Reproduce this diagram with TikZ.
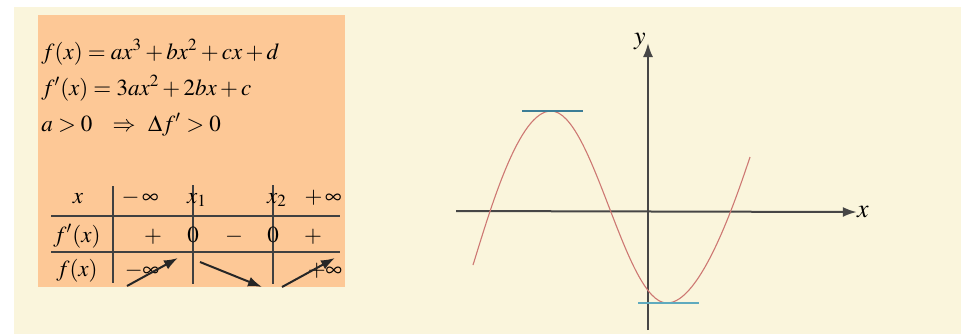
\documentclass[tikz,border=0pt]{standalone}
\usepackage{mathptmx}
\usetikzlibrary{arrows.meta}
\definecolor{creambg}{RGB}{250,245,220}
\definecolor{orangebox}{RGB}{253,200,150}
\definecolor{curvered}{RGB}{205,120,115}
\definecolor{tangblue}{RGB}{60,125,150}
\definecolor{tangcyan}{RGB}{95,170,190}
\definecolor{axisgray}{RGB}{70,70,70}

\begin{document}
\begin{tikzpicture}[
    x=0.5pt, y=0.5pt,
    formula/.style={anchor=base west, inner sep=0pt, font=\fontsize{11.5}{14}\selectfont},
    cell/.style={anchor=base, inner sep=0pt, font=\fontsize{11.5}{14}\selectfont},
    rule/.style={line width=0.8pt, color=black!75},
    varrow/.style={-{Latex[length=7pt, width=5pt]}, line width=1pt, color=black!85},
    axis/.style={-{Latex[length=7pt, width=5pt]}, line width=1pt, color=axisgray},
    axlabel/.style={inner sep=0pt, font=\fontsize{13}{15}\selectfont},
    curve/.style={line width=0.55pt, color=curvered},
    tangent/.style={line width=0.7pt}
]

% --- background ---
\fill[white] (0,0) rectangle (961,-334);
\fill[creambg] (14,-7) rectangle (961,-334);
\fill[orangebox] (38,-15) rectangle (345,-287);
\useasboundingbox (0,0) rectangle (961,-334);

% --- formulas ---
\node[formula] (fdef) at (41,-59) {$f(x)=ax^3+bx^2+cx+d$};
\node[formula] (fder) at (41,-95) {$f'(x)=3ax^2+2bx+c$};
\node[formula] (fdisc) at (41,-131) {$a>0\ \ \Rightarrow\ \Delta f'>0$};

% --- table rules ---
\draw[rule] (51,-216) -- (340,-216);
\draw[rule] (51,-252) -- (340,-252);
\draw[rule] (113,-186) -- (113,-283);
\draw[rule] (193,-185) -- (193,-284);
\draw[rule] (273,-185) -- (273,-284);

% --- table header ---
\node[cell] (hx) at (78,-203) {$x$};
\node[cell] (hminf) at (140,-203) {$-\,\infty$};
\node[cell] (hxone) at (197,-203) {$x_1$};
\node[cell] (hxtwo) at (277,-203) {$x_2$};
\node[cell] (hpinf) at (323,-203) {$+\,\infty$};

% --- derivative row ---
\node[cell] (dlab) at (77,-242) {$f'(x)$};
\node[cell] (dplus) at (153,-242) {$+$};
\node[cell] (dzero) at (193,-242) {$0$};
\node[cell] (dminus) at (234,-242) {$-$};
\node[cell] (dzerob) at (273,-242) {$0$};
\node[cell] (dplusb) at (313,-242) {$+$};

% --- variation row ---
\node[cell] (vlab) at (77,-276) {$f(x)$};
\node[cell] (vminf) at (142,-276) {$-\infty$};
\node[cell] (vpinf) at (325,-276) {$+\infty$};
\coordinate (upa) at (127,-286);
\coordinate (upb) at (178,-258);
\coordinate (downa) at (200,-262);
\coordinate (downb) at (262,-287);
\coordinate (upc) at (282,-287);
\coordinate (upd) at (335,-258);
\draw[varrow] (upa) -- (upb);
\draw[varrow] (downa) -- (downb);
\draw[varrow] (upc) -- (upd);

% --- axes ---
\coordinate (xstart) at (456,-211);
\node[axlabel] (xlab) at (863,-212) {$x$};
\draw[axis] (xstart) -- (xlab.west);
\coordinate (ystart) at (648,-330);
\coordinate (ytip) at (648,-43);
\node[axlabel] (ylab) at (640,-41) {$y$};
\draw[axis] (ystart) -- (ytip);

% --- cubic ---
\coordinate (cstart) at (473,-265);
\coordinate (cmax) at (551,-111);
\coordinate (cmin) at (667,-303);
\coordinate (cend) at (750,-157);
\draw[curve] (cstart) .. controls (491,-207) and (519,-111) .. (cmax)
    .. controls (593,-111) and (625,-303) .. (cmin)
    .. controls (700,-303) and (734,-205) .. (cend);

% --- tangents ---
\draw[tangent, tangblue] (522,-111) -- (583,-111);
\draw[tangent, tangcyan] (638,-303) -- (699,-303);

\end{tikzpicture}
\end{document}
